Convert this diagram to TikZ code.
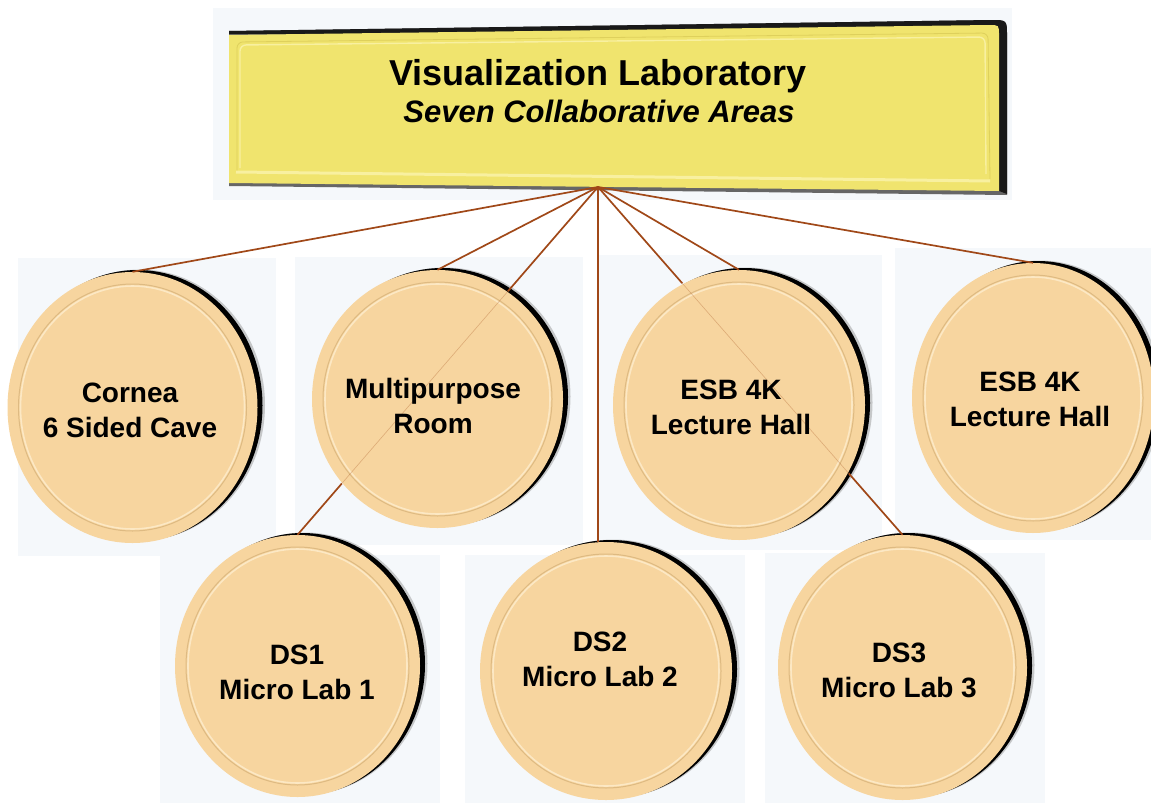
\documentclass[tikz,border=0pt]{standalone}
\usepackage{fontspec}
\setmainfont{Liberation Sans}
\usetikzlibrary{shapes.geometric,shadows}
\definecolor{peach}{RGB}{247,213,159}
\definecolor{rimdark}{RGB}{222,186,130}
\definecolor{rimlight}{RGB}{252,232,196}
\definecolor{conncol}{RGB}{160,72,24}
\definecolor{boxyellow}{RGB}{240,228,110}
\definecolor{boxlight}{RGB}{248,240,160}
\definecolor{boxdark}{RGB}{222,208,92}
\definecolor{panel}{RGB}{245,248,251}
\begin{document}
\begin{tikzpicture}[x=1pt,y=-1pt,
  coin/.style={ellipse, inner sep=0pt, fill=peach,
    general shadow={fill=black!50, opacity=.4, shadow xshift=7.5pt, shadow yshift=2.5pt},
    general shadow={fill=black, shadow xshift=5pt, shadow yshift=2pt}},
  conn/.style={draw=conncol, line width=1.7pt},
  ghost/.style={draw=conncol, line width=0.6pt, opacity=0.3},
  lbl/.style={font=\fontsize{28}{35}\selectfont\bfseries, align=center, inner sep=0pt},
  panelbox/.style={fill=panel}]
\useasboundingbox (0,0) rectangle (1151,803);
\fill[white] (0,0) rectangle (1151,803);

% light panels behind the clip-art pieces
\fill[panelbox] (213,8) rectangle (1012,200);
\fill[panelbox] (18,258) rectangle (276,556);
\fill[panelbox] (295,257) rectangle (583,545);
\fill[panelbox] (597,255) rectangle (882,550);
\fill[panelbox] (895,248) rectangle (1151,540);
\fill[panelbox] (160,555) rectangle (440,803);
\fill[panelbox] (465,555) rectangle (745,803);
\fill[panelbox] (765,553) rectangle (1045,803);

% top box
\fill[black!60] (229,186) -- (229,31) -- (991,20) .. controls (1007,20) .. (1007,36) -- (1007,195) -- cycle;
\fill[black!90] (229,34) -- (229,31) -- (991,20) .. controls (1007,20) .. (1007,36) -- (1007,194) -- (999,191) -- (999,35) -- cycle;
\fill[boxyellow] (229,183) -- (229,35) -- (989,25) .. controls (999,25) .. (999,35) -- (999,191) -- cycle;
\draw[boxdark, line width=0.8pt, rounded corners=6pt] (237,173) -- (237,42) -- (988,33) -- (990,179);
\draw[boxlight, line width=1.4pt, rounded corners=6pt] (240,168) -- (240,45) -- (985,37) -- (986,174);
\draw[boxlight, line width=3pt] (236,172) -- (990,181);
\node[font=\fontsize{36}{40}\selectfont\bfseries, anchor=base, inner sep=0pt] (title) at (598,85) {Visualization Laboratory};
\node[font=\fontsize{31}{36}\selectfont\bfseries\itshape, anchor=base, inner sep=0pt] (subtitle) at (599,122) {Seven Collaborative Areas};
\coordinate (hub) at (598,187);

% coins
\node[coin, minimum width=250pt, minimum height=271pt] (cornea) at (132.5,407.5) {};
\node[coin, minimum width=251pt, minimum height=258pt] (multi) at (437.5,399) {};
\node[coin, minimum width=252pt, minimum height=270pt] (esba) at (739,405) {};
\node[coin, minimum width=242pt, minimum height=270pt] (esbb) at (1033,398) {};
\node[coin, minimum width=245pt, minimum height=262pt] (dsa) at (297.5,666) {};
\node[coin, minimum width=252pt, minimum height=258pt] (dsb) at (606,671) {};
\node[coin, minimum width=249pt, minimum height=265pt] (dsc) at (902.5,667.5) {};

\foreach \n/\a/\b in {cornea/125/135.5, multi/125.5/129, esba/126/135, esbb/121/135, dsa/122.5/131, dsb/126/129, dsc/124.5/132.5}{
  \draw[rimdark, line width=1pt] (\n.center) ellipse [x radius=\a pt-11pt, y radius=\b pt-12pt];
  \draw[rimlight, line width=1.6pt] (\n.center) ellipse [x radius=\a pt-13pt, y radius=\b pt-14pt];
}

% connectors
\draw[conn] (hub) -- (cornea.north);
\draw[conn] (hub) -- (multi.north);
\draw[conn] (hub) -- (esba.north);
\draw[conn] (hub) -- (esbb.north);
\draw[conn] (hub) -- (hub |- dsb.north);
\draw[ghost] (hub) -- (dsa.north);
\draw[ghost] (hub) -- (dsc.north);
\begin{scope}[even odd rule]
\clip (0,0) rectangle (1151,803) (multi.center) ellipse [x radius=126pt, y radius=130pt]
  (esba.center) ellipse [x radius=127pt, y radius=136pt];
\draw[conn] (hub) -- (dsa.north);
\draw[conn] (hub) -- (dsc.north);
\end{scope}

% labels
\node[lbl] (tcornea) at (130,410) {Cornea\\6 Sided Cave};
\node[lbl] (tmulti) at (433,406) {Multipurpose\\Room};
\node[lbl] (tesba) at (731,407) {ESB 4K\\Lecture Hall};
\node[lbl] (tesbb) at (1030,399) {ESB 4K\\Lecture Hall};
\node[lbl] (tdsa) at (297,672) {DS1\\Micro Lab 1};
\node[lbl] (tdsb) at (600,659) {DS2\\Micro Lab 2};
\node[lbl] (tdsc) at (899,670) {DS3\\Micro Lab 3};
\end{tikzpicture}
\end{document}
